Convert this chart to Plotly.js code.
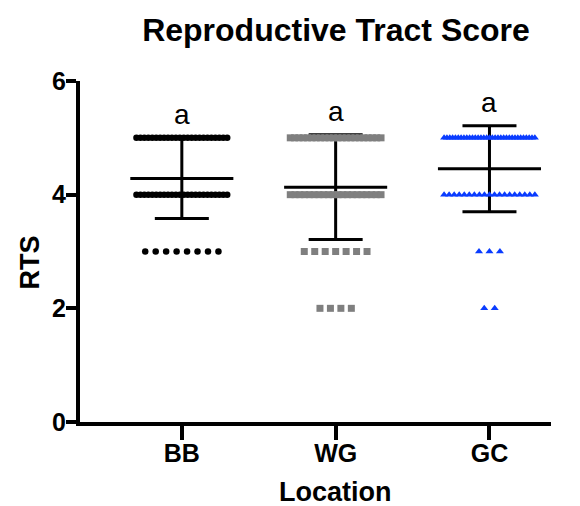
<!DOCTYPE html>
<html>
<head>
<meta charset="utf-8">
<script src="https://cdn.plot.ly/plotly-3.0.1.min.js"></script>
<style>
  html, body { margin: 0; padding: 0; background: #fff; }
  #chart { width: 580px; height: 506px; }
</style>
</head>
<body>
<div id="chart"></div>
<script>
// Reproductive tract scores by location: number of animals at each score
const categories = ['BB', 'WG', 'GC'];
const scoreLevels = [2, 3, 4, 5];
const countsBB = [0, 8, 24, 24];
const countsWG = [4, 7, 20, 22];
const countsGC = [2, 3, 19, 33];
const groupLetters = ['a', 'a', 'a'];

const groupCounts = [countsBB, countsWG, countsGC];
const colors = ['#000000', '#7f7f7f', '#0a3cff'];
const symbols = ['circle', 'square', 'triangle-up'];
const sizes = [6.5, 7, 7];

// horizontal spread of tied points (axis units)
const GAP = 0.068;
const MAX_SPAN = 0.59;
const MEAN_HALF = 0.335;
const FONT = 'Liberation Sans, Arial, Helvetica, sans-serif';

function expand(counts) {
  const vals = [];
  counts.forEach((n, i) => { for (let k = 0; k < n; k++) vals.push(scoreLevels[i]); });
  return vals;
}
function meanOf(v) { return v.reduce((a, b) => a + b, 0) / v.length; }
function sdOf(v) {
  const m = meanOf(v);
  return Math.sqrt(v.reduce((a, b) => a + (b - m) * (b - m), 0) / (v.length - 1));
}

const pointTraces = [];
const statTraces = [];
const annotations = [];

groupCounts.forEach((counts, g) => {
  const xs = [], ys = [];
  counts.forEach((n, i) => {
    if (!n) return;
    const span = n > 1 ? Math.min(GAP * (n - 1), MAX_SPAN) : 0;
    for (let k = 0; k < n; k++) {
      xs.push(g - span / 2 + (n > 1 ? k * span / (n - 1) : 0));
      ys.push(scoreLevels[i]);
    }
  });
  pointTraces.push({
    type: 'scatter', mode: 'markers', x: xs, y: ys,
    marker: { symbol: symbols[g], size: sizes[g], color: colors[g], line: { width: 0 } },
    hoverinfo: 'y', cliponaxis: false
  });

  const vals = expand(counts);
  const m = meanOf(vals), s = sdOf(vals);
  statTraces.push({
    type: 'scatter', mode: 'lines', x: [g - MEAN_HALF, g + MEAN_HALF], y: [m, m],
    line: { color: '#000', width: 3 }, hoverinfo: 'skip', cliponaxis: false
  });
  statTraces.push({
    type: 'scatter', mode: 'markers', x: [g], y: [m],
    marker: { size: 1, color: 'rgba(0,0,0,0)' },
    error_y: { type: 'data', array: [s], symmetric: true, color: '#000', thickness: 3, width: 27 },
    hoverinfo: 'skip', cliponaxis: false
  });
  annotations.push({
    x: g, y: m + s, xref: 'x', yref: 'y', text: groupLetters[g], showarrow: false,
    yanchor: 'bottom', yshift: 6,
    font: { family: FONT, size: 28, color: '#000' }
  });
});

annotations.push({
  x: 1, xref: 'x', y: 0, yref: 'paper', yanchor: 'middle', yshift: -70,
  text: 'Location', showarrow: false,
  font: { family: FONT, size: 27, weight: 700, color: '#000' }
});
annotations.push({
  x: 0, xref: 'paper', xanchor: 'center', xshift: -50,
  y: 0.468, yref: 'paper', yanchor: 'middle',
  text: 'RTS', textangle: -90, showarrow: false,
  font: { family: FONT, size: 27, weight: 700, color: '#000' }
});

const layout = {
  width: 580, height: 506,
  margin: { l: 80, r: 29, t: 81, b: 84 },
  paper_bgcolor: '#fff', plot_bgcolor: '#fff',
  showlegend: false,
  title: {
    text: 'Reproductive Tract Score',
    x: 336 / 580, xref: 'container', xanchor: 'center',
    y: 1 - 30 / 506, yref: 'container', yanchor: 'middle',
    font: { family: FONT, size: 32, weight: 700, color: '#000' }
  },
  xaxis: {
    range: [-0.662, 2.4], tickvals: [0, 1, 2], ticktext: categories,
    showgrid: false, zeroline: false, showline: true, linecolor: '#000', linewidth: 4,
    ticks: 'outside', ticklen: 14, tickwidth: 4, tickcolor: '#000', ticklabelstandoff: -8,
    tickfont: { family: FONT, size: 25, weight: 700, color: '#000' },
    fixedrange: true
  },
  yaxis: {
    range: [0, 6], tickvals: [0, 2, 4, 6],
    showgrid: false, zeroline: false, showline: true, linecolor: '#000', linewidth: 4,
    ticks: 'outside', ticklen: 10, tickwidth: 4, tickcolor: '#000', ticklabelstandoff: -5,
    tickfont: { family: FONT, size: 25, weight: 700, color: '#000' },
    fixedrange: true
  },
  annotations: annotations
};

Plotly.newPlot('chart', statTraces.concat(pointTraces), layout, { displayModeBar: false, staticPlot: true });
</script>
</body>
</html>
